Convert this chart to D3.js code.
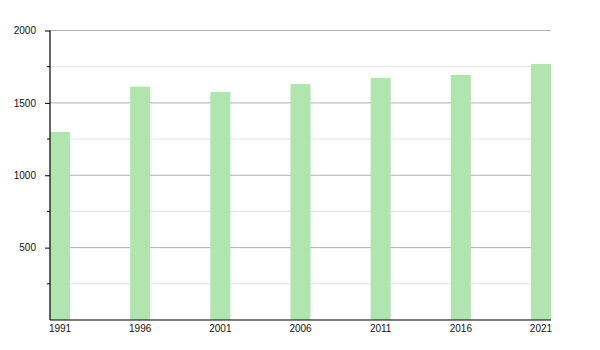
<!DOCTYPE html>
<html><head><meta charset="utf-8">
<script src="https://cdn.jsdelivr.net/npm/d3@7"></script>
<style>body{margin:0;background:#fff}svg{display:block}text{font-family:"Liberation Sans",Arial,sans-serif;font-size:10px;fill:#111}</style>
</head><body>
<script>
const years = ["1991","1996","2001","2006","2011","2016","2021"];
const values = [1299, 1612, 1575, 1630, 1672, 1693, 1769];
const majorTicks = [500, 1000, 1500, 2000];
const minorTicks = [250, 750, 1250, 1750];

const W = 600, H = 350, mLeft = 50, mRight = 551, mTop = 30.5, mBottom = 320;
const svg = d3.select("body").append("svg").attr("width", W).attr("height", H);
const y = d3.scaleLinear().domain([0, 2000]).range([mBottom, mTop]);
const x = d3.scaleBand().domain(years).range([mLeft, mRight]).paddingInner(0.75).paddingOuter(0).align(0);

// grid lines
svg.append("g").selectAll("line").data(minorTicks).join("line")
  .attr("x1", mLeft).attr("x2", mRight).attr("y1", d => y(d)).attr("y2", d => y(d))
  .attr("stroke", "#e2e2e2").attr("stroke-width", 1);
svg.append("g").selectAll("line").data(majorTicks).join("line")
  .attr("x1", mLeft).attr("x2", mRight).attr("y1", d => y(d)).attr("y2", d => y(d))
  .attr("stroke", "#b0b0b0").attr("stroke-width", 1);

// bars
svg.append("g").selectAll("rect").data(values).join("rect")
  .attr("x", (d, i) => x(years[i])).attr("width", x.bandwidth())
  .attr("y", d => y(d)).attr("height", d => mBottom - y(d))
  .attr("fill", "#b1e5b0");

// y axis
const yAxis = d3.axisLeft(y).tickValues(majorTicks).tickSize(5).tickPadding(9).tickFormat(d3.format("d"));
const ga = svg.append("g").attr("transform", `translate(${mLeft},0)`).call(yAxis);
ga.select(".domain").remove();
ga.selectAll("line").attr("stroke", "#000");
ga.selectAll("text").style("font-size", "10px").attr("fill", "#111");
svg.append("g").selectAll("line").data(minorTicks).join("line")
  .attr("x1", mLeft - 3).attr("x2", mLeft).attr("y1", d => y(d)).attr("y2", d => y(d)).attr("stroke", "#000");
svg.append("line").attr("x1", mLeft).attr("x2", mLeft).attr("y1", mTop).attr("y2", mBottom).attr("stroke", "#000").attr("stroke-width", 1.2);

// x axis
const xAxis = d3.axisBottom(x).tickSize(0).tickPadding(5);
const gx = svg.append("g").attr("transform", `translate(0,${mBottom})`).call(xAxis);
gx.select(".domain").remove();
gx.selectAll("text").style("font-size", "10px").attr("fill", "#111");
svg.append("line").attr("x1", mLeft).attr("x2", mRight).attr("y1", mBottom).attr("y2", mBottom).attr("stroke", "#000").attr("stroke-width", 1.2);
</script>
</body></html>
